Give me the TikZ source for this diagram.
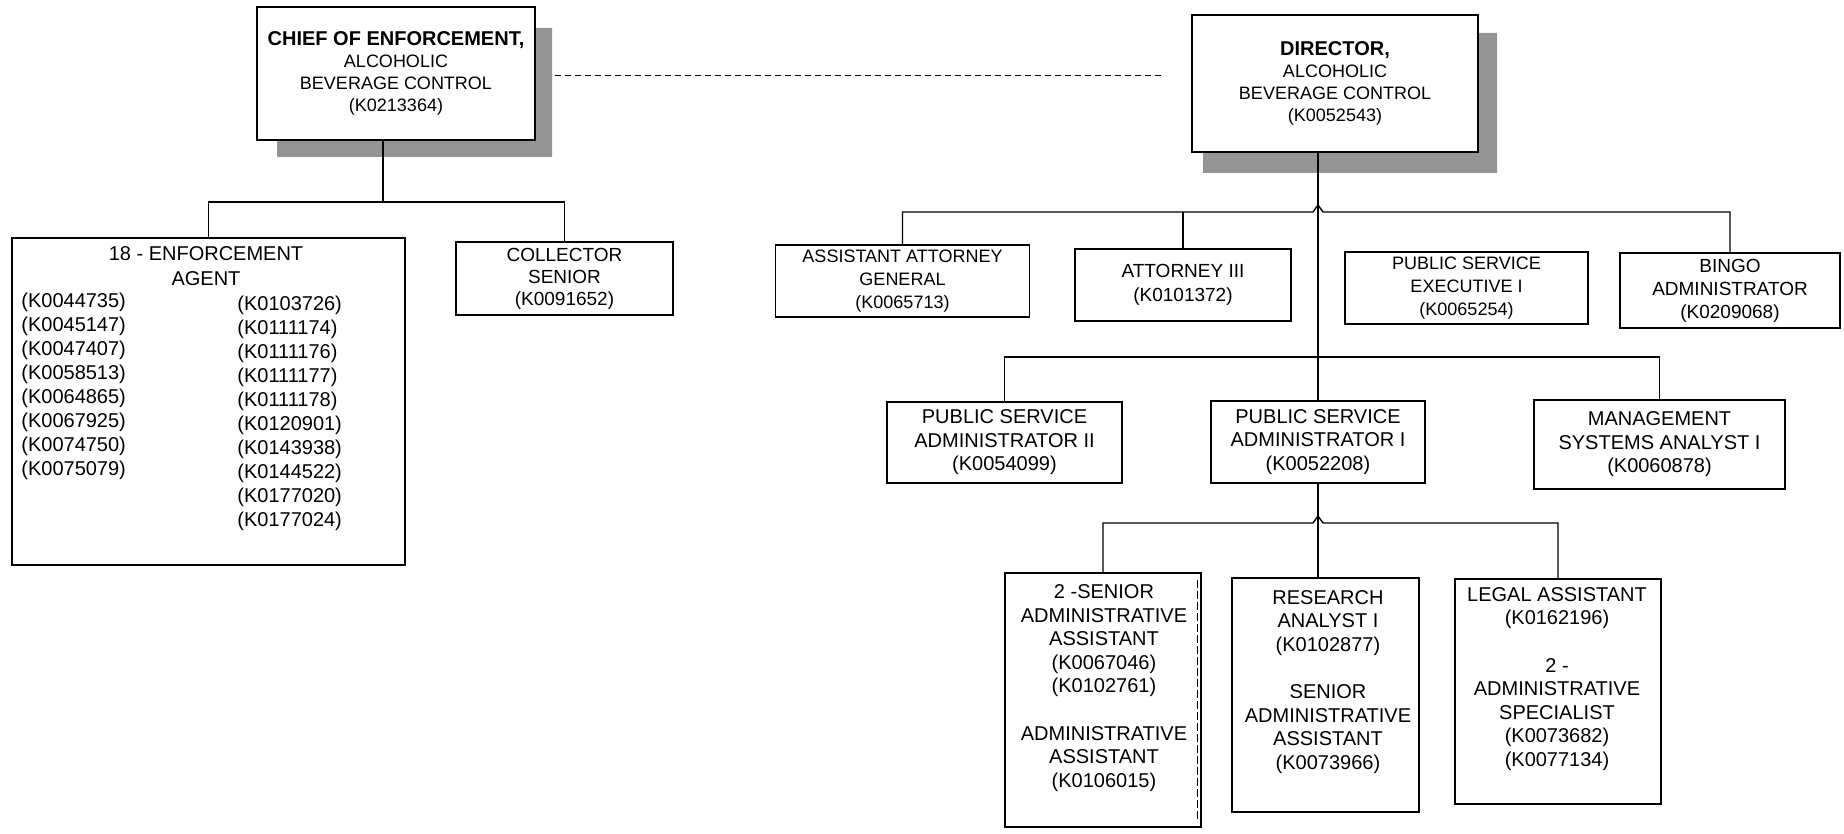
\documentclass[tikz,border=0pt]{standalone}
\usepackage{fontspec}
\setmainfont{Liberation Sans}
\begin{document}
\begin{tikzpicture}[x=0.5pt,y=-0.5pt,
 box/.style={draw=black,line width=0.7pt,fill=white,inner sep=0pt,align=center,font=\fontsize{10}{11.75}\selectfont},
 conn/.style={draw=black,line width=0.7pt},
 shade/.style={fill=black!42},
 txt/.style={inner sep=0pt,align=center,font=\fontsize{10}{11.75}\selectfont},
 col/.style={inner sep=0pt,align=left,anchor=west,font=\fontsize{10}{12}\selectfont}]
\useasboundingbox (0,0) rectangle (1844,834);

% shadows
\fill[shade] (535,28) -- (552,28) -- (552,157) -- (277,157) -- (277,140) -- (535,140) -- cycle;
\fill[shade] (1478,33) -- (1497,33) -- (1497,173) -- (1203,173) -- (1203,152) -- (1478,152) -- cycle;

% top boxes
\node[box,minimum width=139pt,minimum height=66.5pt,font=\fontsize{9}{11}\selectfont] (chief) at (396,73.5)
 {{\fontsize{10}{11}\selectfont\bfseries CHIEF OF ENFORCEMENT,}\\ALCOHOLIC\\BEVERAGE CONTROL\\(K0213364)};
\node[box,minimum width=143pt,minimum height=68.5pt,font=\fontsize{9}{11}\selectfont] (dir) at (1335,83.5)
 {{\fontsize{10}{11}\selectfont\bfseries DIRECTOR,}\\ALCOHOLIC\\BEVERAGE CONTROL\\(K0052543)};

\coordinate (dl) at (555,76);
\coordinate (dr) at (1164,76);
\draw[line width=0.5pt,dash pattern=on 3pt off 2pt] (dl) -- (dr);

% left branch
\node[box,minimum width=196.5pt,minimum height=163.5pt] (enf) at (208.5,401.5) {};
\node[txt,font=\fontsize{10}{12.5}\selectfont] (enft) at (206,266) {18 - ENFORCEMENT\\AGENT};
\node[col] (enfl) at (21,386) {(K0044735)\\(K0045147)\\(K0047407)\\(K0058513)\\(K0064865)\\(K0067925)\\(K0074750)\\(K0075079)};
\node[col] (enfr) at (237,413.5) {(K0103726)\\(K0111174)\\(K0111176)\\(K0111177)\\(K0111178)\\(K0120901)\\(K0143938)\\(K0144522)\\(K0177020)\\(K0177024)};
\node[box,minimum width=108.5pt,minimum height=36.5pt,font=\fontsize{9.5}{11}\selectfont] (coll) at (564.5,278.5) {COLLECTOR\\SENIOR\\(K0091652)};

\coordinate (b1) at (383,202);
\draw[conn] (chief.south -| b1) -- (b1);
\draw[conn] (enf.north) |- (b1) -| (coll.north);

% right branch, row 1
\node[box,minimum width=127pt,minimum height=36pt,font=\fontsize{9}{11.5}\selectfont] (aag) at (902.5,281) {ASSISTANT ATTORNEY\\GENERAL\\(K0065713)};
\node[box,minimum width=108pt,minimum height=36pt,font=\fontsize{9.5}{12}\selectfont] (att) at (1183,285) {ATTORNEY III\\(K0101372)};
\node[box,minimum width=121.5pt,minimum height=36pt,font=\fontsize{9}{11.5}\selectfont] (pse) at (1466.5,288) {PUBLIC SERVICE\\EXECUTIVE I\\(K0065254)};
\node[box,minimum width=110pt,minimum height=37.5pt,font=\fontsize{9.5}{11.5}\selectfont] (bingo) at (1730,290.5) {BINGO\\ADMINISTRATOR\\(K0209068)};

% row 2
\node[box,minimum width=117.5pt,minimum height=40.5pt] (psa2) at (1004.5,442.5) {PUBLIC SERVICE\\ADMINISTRATOR II\\(K0054099)};
\node[box,minimum width=107pt,minimum height=41pt] (psa1) at (1318,442) {PUBLIC SERVICE\\ADMINISTRATOR I\\(K0052208)};
\node[box,minimum width=125.5pt,minimum height=44.5pt] (msa) at (1659.5,444.5) {MANAGEMENT\\SYSTEMS ANALYST I\\(K0060878)};

% row 3
\node[box,minimum width=98pt,minimum height=127pt] (sen) at (1103,700) {};
\draw[line width=0.4pt,dash pattern=on 4pt off 1.5pt] (1197,580) -- (1197,822);
\node[txt] (sent) at (1104,688) {2 -SENIOR\\ADMINISTRATIVE\\ASSISTANT\\(K0067046)\\(K0102761)\\[12pt]ADMINISTRATIVE\\ASSISTANT\\(K0106015)};
\node[box,minimum width=93.5pt,minimum height=117pt] (ra) at (1325.5,695) {};
\node[txt] (rat) at (1328,682) {RESEARCH\\ANALYST I\\(K0102877)\\[12pt]SENIOR\\ADMINISTRATIVE\\ASSISTANT\\(K0073966)};
\node[box,minimum width=103pt,minimum height=112.5pt] (legal) at (1558,691.5) {};
\node[txt] (legalt) at (1557,679) {LEGAL ASSISTANT\\(K0162196)\\[12pt]2 -\\ADMINISTRATIVE\\SPECIALIST\\(K0073682)\\(K0077134)};

% connectors right
\coordinate (h1) at (1318,212);
\coordinate (h2) at (1318,357);
\coordinate (h3) at (1318,523);
\draw[conn] (psa1.north |- dir.south) -- (psa1.north);
\draw[conn] (psa1.south) -- (psa1.south |- ra.north);
\draw[conn] (aag.north) |- ([xshift=-2.5pt]h1) -- ([yshift=3.5pt]h1) -- ([xshift=2.5pt]h1) -| (bingo.north);
\draw[conn] (att.north) -- (att.north |- h1);
\draw[conn] (psa2.north) |- (h2) -| (msa.north);
\draw[conn] (sen.north) |- ([xshift=-2.5pt]h3) -- ([yshift=3.5pt]h3) -- ([xshift=2.5pt]h3) -| (legal.north);
\end{tikzpicture}
\end{document}
